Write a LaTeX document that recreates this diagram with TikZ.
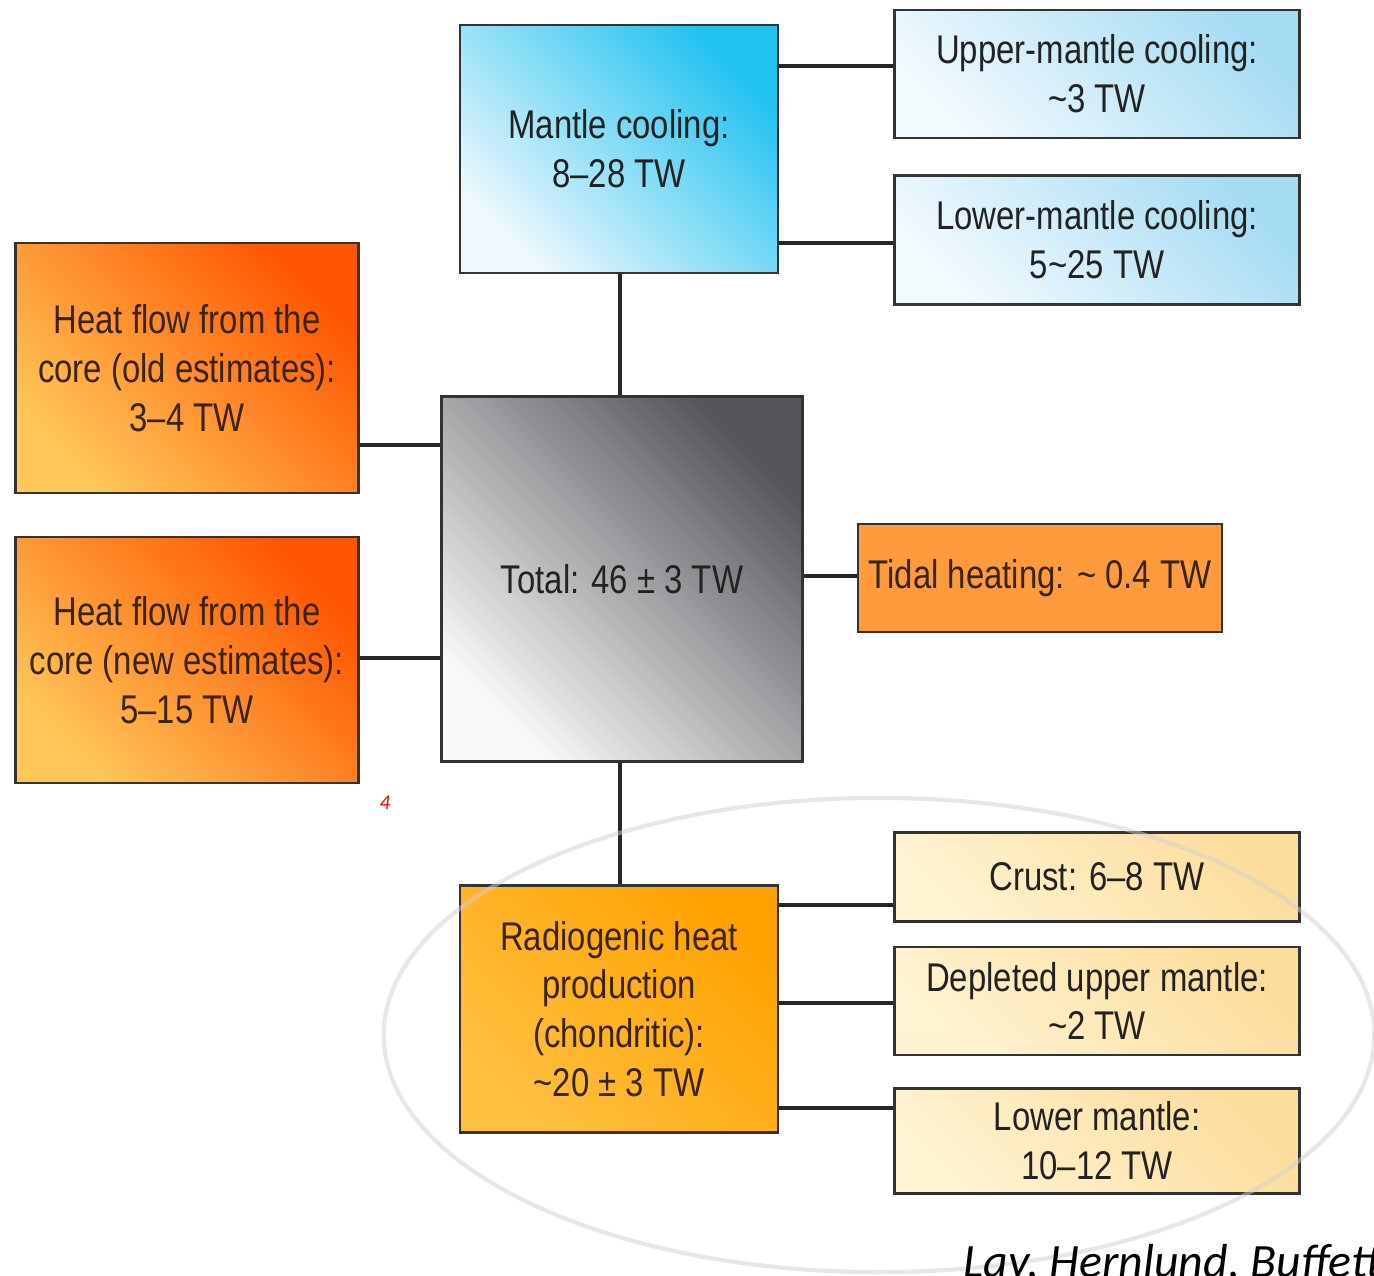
\documentclass[tikz,border=0pt]{standalone}
\usepackage{fontspec}
\setmainfont[FakeStretch=0.82]{Liberation Sans}
\newfontfamily\capfont{Carlito}
\usetikzlibrary{positioning}
\definecolor{boxline}{HTML}{333333}
\definecolor{txt}{HTML}{222222}
\definecolor{brown}{HTML}{3A2412}
\definecolor{bluelight}{HTML}{EEF8FD}
\definecolor{bluedark}{HTML}{22C2F0}
\definecolor{paleblue}{HTML}{F2FAFE}
\definecolor{skyblue}{HTML}{A6DCF3}
\definecolor{orangelight}{HTML}{FFC658}
\definecolor{orangedark}{HTML}{FF5500}
\definecolor{greylight}{HTML}{F8F8F8}
\definecolor{greydark}{HTML}{55565C}
\definecolor{tidalorange}{HTML}{FF9B3D}
\definecolor{amberlight}{HTML}{FFC040}
\definecolor{amberdark}{HTML}{FFA200}
\definecolor{creamlight}{HTML}{FFF3D2}
\definecolor{creamdark}{HTML}{FCDD9C}
\begin{document}
\begin{tikzpicture}[
  x=0.01cm, y=-0.01cm,
  block/.style={rectangle, draw=boxline, line width=0.7pt, align=center, text=txt,
    font=\fontsize{11.4pt}{13.9pt}\selectfont, inner sep=0pt},
  grad/.style 2 args={bottom color=#1, top color=#2, shading angle=-45},
  link/.style={line width=1.3pt, black!85}
]
\useasboundingbox (0,0) rectangle (1374,1275);
\clip (0,0) rectangle (1374,1275);
\fill[white] (0,0) rectangle (1374,1275);

\node[block, grad={bluelight}{bluedark}, minimum width=3.18cm, minimum height=2.48cm] (mantle) at (619,149) {Mantle cooling:\\8--28 TW};
\node[block, grad={paleblue}{skyblue}, minimum width=4.05cm, minimum height=1.28cm] (upper) at (1097,74) {Upper-mantle cooling:\\\textasciitilde3 TW};
\node[block, grad={paleblue}{skyblue}, minimum width=4.05cm, minimum height=1.29cm] (lower) at (1097,240) {Lower-mantle cooling:\\5\textasciitilde25 TW};

\node[block, grad={orangelight}{orangedark}, text=brown, minimum width=3.43cm, minimum height=2.50cm] (coreold) at (187,368) {Heat flow from the\\core (old estimates):\\3--4 TW};
\node[block, grad={orangelight}{orangedark}, text=brown, minimum width=3.43cm, minimum height=2.46cm] (corenew) at (187,660) {Heat flow from the\\core (new estimates):\\5--15 TW};

\node[block, grad={greylight}{greydark}, minimum width=3.61cm, minimum height=3.65cm] (total) at (622,579) {Total: 46 ± 3 TW};
\node[block, fill=tidalorange, text=brown, minimum width=3.64cm, minimum height=1.08cm] (tidal) at (1040,578) {Tidal heating: \textasciitilde{} 0.4 TW};

\node[block, grad={amberlight}{amberdark}, text=brown, minimum width=3.18cm, minimum height=2.47cm] (radio) at (619,1009) {Radiogenic heat\\production\\(chondritic):\\\textasciitilde20 ± 3 TW};
\node[block, grad={creamlight}{creamdark}, minimum width=4.05cm, minimum height=0.89cm] (crust) at (1097,877) {Crust: 6--8 TW};
\node[block, grad={creamlight}{creamdark}, minimum width=4.05cm, minimum height=1.08cm] (depleted) at (1097,1001) {Depleted upper mantle:\\\textasciitilde2 TW};
\node[block, grad={creamlight}{creamdark}, minimum width=4.05cm, minimum height=1.05cm] (lowermantle) at (1097,1141) {Lower mantle:\\10--12 TW};

\draw[link] (mantle.east |- 0,66) -- (upper.west |- 0,66);
\draw[link] (mantle.east |- 0,243) -- (lower.west |- 0,243);
\draw[link] (mantle.south -| 620,0) -- (total.north -| 620,0);
\draw[link] (coreold.east |- 0,445) -- (total.west |- 0,445);
\draw[link] (corenew.east |- 0,658) -- (total.west |- 0,658);
\draw[link] (total.east |- 0,576) -- (tidal.west |- 0,576);
\draw[link] (total.south -| 620,0) -- (radio.north -| 620,0);
\draw[link] (radio.east |- 0,905) -- (crust.west |- 0,905);
\draw[link] (radio.east |- 0,1003) -- (depleted.west |- 0,1003);
\draw[link] (radio.east |- 0,1108) -- (lowermantle.west |- 0,1108);

\draw[black!18, line width=1.2pt, opacity=0.5] (879,1035) ellipse [x radius=4.95cm, y radius=2.37cm];

\node[text=red, font=\capfont\itshape\fontsize{6pt}{6pt}\selectfont, inner sep=0pt] (pagenum) at (385,803) {4};
\node[anchor=base west, font=\capfont\itshape\fontsize{13.6pt}{13.6pt}\selectfont, inner sep=0pt] (credit) at (963,1277) {Lay, Hernlund, Buffett};
\end{tikzpicture}
\end{document}
